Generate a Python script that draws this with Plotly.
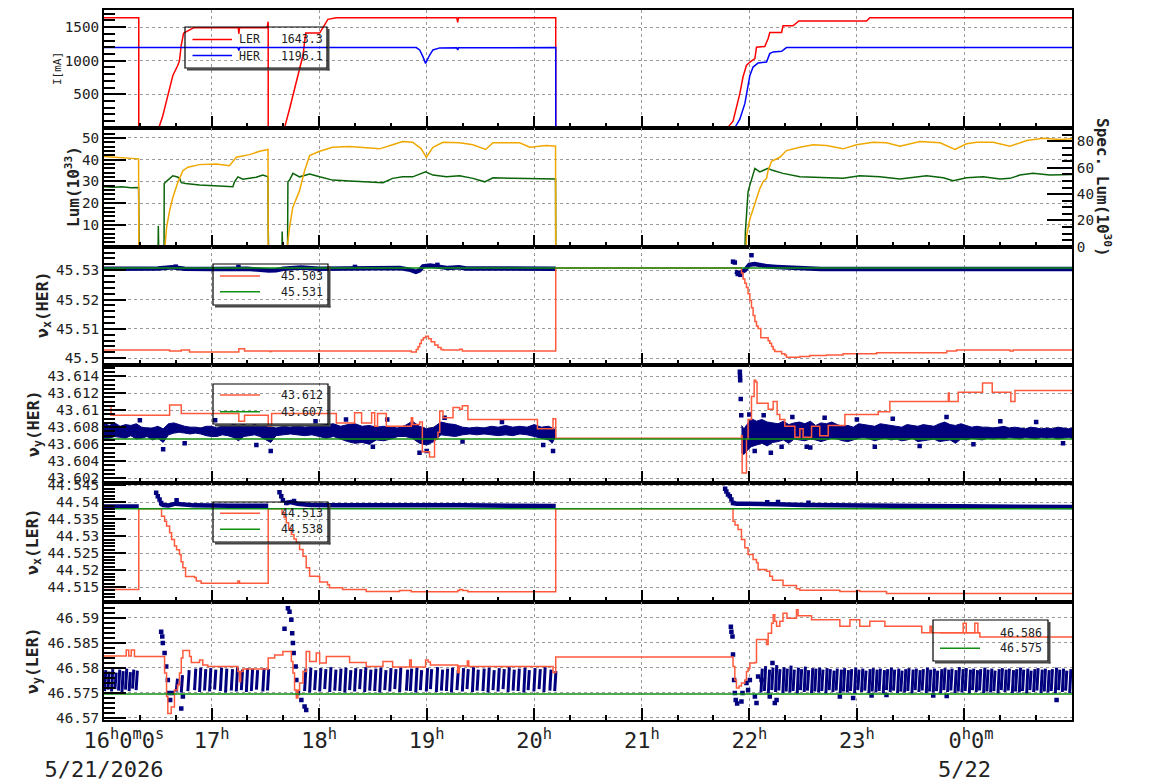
import plotly.graph_objects as go
from plotly.subplots import make_subplots

# ---------------------------------------------------------------- data
# time = minutes after 2026-05-21 16:00
HOUR_TICKS = [0, 60, 120, 180, 240, 300, 360, 420, 480]
HOUR_LABELS = [
    "&nbsp;&nbsp;&nbsp;16<sup>h</sup>0<sup>m</sup>0<sup>s</sup><br>5/21/2026",
    "17<sup>h</sup>", "18<sup>h</sup>", "19<sup>h</sup>", "20<sup>h</sup>",
    "21<sup>h</sup>", "22<sup>h</sup>", "23<sup>h</sup>",
    "&nbsp;0<sup>h</sup>0<sup>m</sup><br>5/22",
]

# panel 1 : beam currents [mA]
LER_CURRENT = [(0, 1640), (19.4, 1640), (19.4, 0), (30.6, 0), (32.6, 160), (34.9, 410), (36.6, 620),
               (38.4, 780), (41.0, 920), (42.1, 1000), (43.1, 1230), (44.4, 1410), (50.0, 1490),
               (74.9, 1490), (75.2, 1400), (75.6, 1490), (91.0, 1490), (91.2, 1580), (91.6, 1580),
               (91.6, 0), (100.7, 0), (103.5, 280), (106.3, 580), (109.1, 905), (111.0, 1080),
               (112.5, 1410), (120.3, 1410), (124.9, 1615), (129.6, 1640), (196.8, 1640),
               (197.3, 1570), (197.8, 1640), (252.0, 1640), (252.0, 0), (347.8, 0), (350.9, 100),
               (352.4, 260), (354.7, 510), (356.5, 760), (358.4, 930), (360.3, 980), (363.1, 1030),
               (364.0, 1200), (368.6, 1210), (370.5, 1330), (371.4, 1420), (378.0, 1420),
               (378.8, 1520), (384.4, 1520), (387.6, 1590), (425.4, 1590), (427.2, 1640), (540.0, 1640)]
HER_CURRENT = [(0, 1195), (74.7, 1195), (75.2, 1150), (75.7, 1195), (174.2, 1195), (176.1, 1160),
               (177.9, 1060), (179.4, 960), (181.6, 1080), (183.5, 1160), (187.3, 1190), (196.8, 1192),
               (197.3, 1160), (197.8, 1192), (252.0, 1195), (252.0, 0), (351.9, 0), (354.7, 130),
               (357.5, 360), (359.3, 610), (360.3, 780), (362.1, 905), (364.9, 965), (369.6, 980),
               (371.4, 1105), (373.3, 1130), (378.0, 1140), (380.7, 1195), (540.0, 1195)]
CURRENT_NAMES = ["LER&nbsp;&nbsp;&nbsp;1643.3", "HER&nbsp;&nbsp;&nbsp;1196.1"]
CURRENT_TICKS = [500, 1000, 1500]

# panel 2 : luminosity (10^33) and specific luminosity (10^30)
LUM = [(0, 27.6), (5, 27.3), (10, 27.5), (15, 27.1), (19.3, 27.2), (19.4, 9.5), (19.6, 0), (30.2, 0),
       (30.3, 9.5), (30.5, 0), (33.5, 0), (33.6, 29.0), (35.6, 30.6), (38.4, 32.6), (41.0, 32.0),
       (42.1, 31.4), (43.1, 29.4), (45.5, 29.0), (53.3, 28.3), (62.6, 27.9), (71.9, 27.6), (72.8, 29.8),
       (74.7, 32.1), (77.5, 31.0), (84.9, 31.9), (88.6, 32.9), (91.5, 32.1), (91.6, 8.6), (91.8, 0),
       (99.3, 0), (99.4, 7.0), (99.6, 0), (102.4, 0), (102.6, 29.8), (103.5, 30.6), (105.4, 33.7),
       (109.1, 32.1), (114.7, 33.4), (120.3, 32.1), (127.5, 30.6), (137.0, 30.2), (146.3, 29.8),
       (155.6, 29.4), (161.0, 31.4), (166.6, 32.1), (172.2, 32.1), (179.4, 34.4), (183.5, 32.9),
       (191.0, 32.1), (198.4, 32.6), (205.8, 31.4), (212.4, 29.8), (217.0, 31.7), (228.0, 31.4),
       (237.5, 31.4), (251.9, 31.1), (252.0, 0), (357.6, 0), (357.8, 7.0), (359.3, 25.3), (360.3, 28.3),
       (361.2, 30.5), (363.1, 36.0), (365.8, 34.4), (368.6, 35.5), (370.5, 36.0), (372.4, 35.2),
       (378.8, 33.7), (388.2, 32.1), (397.5, 31.7), (412.3, 31.4), (421.6, 32.6), (432.8, 32.1),
       (444.0, 31.1), (458.9, 32.6), (468.2, 31.7), (473.7, 30.3), (481.2, 31.7), (490.5, 32.1),
       (499.8, 31.1), (505.4, 31.4), (510.9, 32.9), (518.2, 33.7), (527.6, 32.9), (540.0, 33.2)]
SPEC_LUM = [(0, 68.5), (6, 67.8), (12, 67.6), (19.3, 66.8), (19.4, 0), (34.0, 0), (34.9, 14.5),
            (36.6, 27.3), (38.4, 37.4), (41.2, 48.9), (44.0, 57.8), (46.8, 60.4), (53.3, 62.4),
            (62.6, 62.9), (70.0, 61.6), (73.8, 68.0), (81.2, 70.0), (86.8, 72.6), (91.5, 73.9),
            (91.6, 0), (102.2, 0), (103.5, 14.5), (105.3, 29.8), (109.1, 42.6), (111.9, 57.8),
            (114.7, 69.3), (120.3, 72.6), (127.5, 75.6), (137.0, 76.2), (146.3, 75.2), (153.8, 74.4),
            (161.0, 77.5), (166.6, 80.0), (172.2, 79.4), (177.0, 74.4), (179.8, 68.0), (183.5, 75.6),
            (189.1, 79.4), (198.4, 79.0), (205.8, 77.5), (212.9, 73.9), (217.0, 79.0), (231.9, 79.0),
            (237.5, 75.6), (246.8, 76.9), (251.9, 76.4), (252.0, 0), (358.3, 0), (358.4, 8.0),
            (360.3, 21.0), (363.1, 33.6), (365.8, 44.0), (367.7, 49.5), (369.6, 52.0), (370.5, 58.0),
            (372.4, 65.0), (377.0, 68.0), (380.7, 73.1), (388.2, 75.6), (395.6, 77.5), (403.1, 76.9),
            (412.3, 74.4), (419.8, 77.5), (429.1, 79.4), (436.5, 79.0), (444.0, 76.4), (455.2, 80.0),
            (466.4, 79.0), (474.7, 73.9), (481.2, 78.2), (486.8, 79.4), (496.0, 79.4), (505.4, 76.4),
            (514.7, 80.7), (523.9, 82.5), (533.3, 81.5), (540.0, 82.0)]
LUM_TICKS = [10, 20, 30, 40, 50]
SPEC_TICKS = [0, 20, 40, 60, 80]

# panel 3 : nu_x (HER)
HERX_SET = [(0, 45.5028), (36.6, 45.5025), (43.1, 45.5028), (47.7, 45.5021), (75.2, 45.5032),
            (78.4, 45.5025), (92.4, 45.5023), (93.5, 45.5025), (171.4, 45.5021), (174.2, 45.5030),
            (175.2, 45.5039), (176.1, 45.5050), (177.0, 45.5062), (178.2, 45.5070), (179.4, 45.5075),
            (181.0, 45.5066), (182.5, 45.5056), (184.5, 45.5045), (186.3, 45.5037), (188.0, 45.5030),
            (189.1, 45.5028), (198.4, 45.5031), (199.9, 45.5025), (252.0, 45.5307), (355.6, 45.5290),
            (356.5, 45.5270), (357.5, 45.5255), (358.4, 45.5241), (359.3, 45.5220), (360.3, 45.5197),
            (361.2, 45.5172), (362.1, 45.5146), (363.1, 45.5125), (364.0, 45.5110), (364.9, 45.5101),
            (366.4, 45.5070), (370.5, 45.5060), (371.4, 45.5051), (372.4, 45.5040), (373.3, 45.5030),
            (374.2, 45.5023), (378.0, 45.5015), (379.8, 45.5011), (380.7, 45.5003), (388.2, 45.5006),
            (393.7, 45.5009), (403.1, 45.5011), (412.3, 45.5015), (431.0, 45.5019), (470.1, 45.5025),
            (475.6, 45.5028), (505.4, 45.5025), (507.2, 45.5028), (540.0, 45.5028)]
HERX_REF = 45.5307
HERX_MEAS = [
    [(0, 45.5305), (20, 45.5305), (30, 45.5306), (38, 45.5310), (45, 45.5305), (60, 45.5304),
     (70, 45.5306), (80, 45.5305), (92, 45.5299), (96, 45.5300), (100, 45.5305), (110, 45.5309),
     (120, 45.5305), (150, 45.5305), (165, 45.5307), (171, 45.5301), (174, 45.5294), (176, 45.5299),
     (178, 45.5313), (182, 45.5316), (186, 45.5312), (192, 45.5307), (198, 45.5310), (202, 45.5306),
     (252, 45.5305)],
    [(352.0, 45.5295), (354.7, 45.5290), (357.5, 45.5300), (358.6, 45.5310), (360, 45.5318),
     (363, 45.5321), (366, 45.5317), (370, 45.5313), (375, 45.5311), (380, 45.5309), (388, 45.5306),
     (400, 45.5304), (540, 45.5304)],
]
HERX_OUTLIERS = [(350.9, 45.5329), (351.9, 45.5326), (353.5, 45.5287), (355.0, 45.5284), (361.2, 45.5351),
                 (40.0, 45.5312), (75.0, 45.5311), (140.0, 45.5311), (186.0, 45.5318)]
HERX_NAMES = ["45.503", "45.531"]
HERX_TICKS = [45.50, 45.51, 45.52, 45.53]
HERX_LABELS = ["45.5", "45.51", "45.52", "45.53"]

# panel 4 : nu_y (HER)
HERY_SET = [(0, 43.6105), (3.9, 43.6094), (36.6, 43.6106), (43.1, 43.6096), (75.2, 43.6087),
            (78.4, 43.6094), (91.6, 43.6081), (93.5, 43.6096), (129.6, 43.6085), (139.8, 43.6097),
            (143.7, 43.6085), (149.3, 43.6097), (151.0, 43.6081), (152.6, 43.6096), (157.5, 43.6081),
            (171.4, 43.6091), (172.2, 43.6083), (176.1, 43.6086), (177.6, 43.6051), (181.6, 43.6045),
            (184.4, 43.6066), (186.3, 43.6074), (187.3, 43.6099), (189.1, 43.6091), (194.7, 43.6103),
            (198.4, 43.6101), (199.9, 43.6105), (203.0, 43.6089), (241.8, 43.6078), (250.5, 43.6090),
            (252.0, 43.6067), (355.6, 43.6070), (356.0, 43.6026), (357.5, 43.6026), (358.4, 43.6066),
            (359.3, 43.6089), (361.2, 43.6116), (362.7, 43.6135), (363.6, 43.6133), (364.3, 43.6108),
            (370.5, 43.6101), (373.3, 43.6110), (375.5, 43.6095), (377.0, 43.6089), (379.8, 43.6081),
            (385.4, 43.6068), (388.2, 43.6078), (390.0, 43.6068), (394.7, 43.6081), (399.3, 43.6070),
            (404.0, 43.6082), (413.3, 43.6095), (431.9, 43.6098), (438.4, 43.6110), (471.0, 43.6120),
            (471.5, 43.6110), (476.5, 43.6121), (490.1, 43.6132), (495.5, 43.6121), (505.9, 43.6110),
            (508.2, 43.6123), (540.0, 43.6123)]
HERY_REF = 43.6066
HERY_BAND = [
    [(0, 43.6066, 43.6084), (3, 43.6067, 43.6082), (6, 43.6069, 43.6085), (9, 43.6068, 43.6081),
     (12, 43.6067, 43.6083), (15, 43.6070, 43.6082), (18, 43.6066, 43.6084), (21, 43.6067, 43.6080),
     (24, 43.6069, 43.6079), (27, 43.6065, 43.6079), (30, 43.6067, 43.6081), (33, 43.6062, 43.6078),
     (36, 43.6071, 43.6084), (39, 43.6073, 43.6085), (42, 43.6074, 43.6083), (45, 43.6073, 43.6081),
     (48, 43.6072, 43.6080), (51, 43.6073, 43.6080), (54, 43.6072, 43.6079), (57, 43.6070, 43.6081),
     (60, 43.6069, 43.6081), (63, 43.6069, 43.6079), (66, 43.6071, 43.6082), (69, 43.6070, 43.6081),
     (72, 43.6068, 43.6083), (75, 43.6064, 43.6082), (78, 43.6069, 43.6083), (81, 43.6070, 43.6081),
     (84, 43.6071, 43.6083), (87, 43.6069, 43.6081), (90, 43.6066, 43.6082), (93, 43.6062, 43.6080),
     (96, 43.6070, 43.6079), (100, 43.6071, 43.6081), (104, 43.6072, 43.6080), (108, 43.6071, 43.6082),
     (112, 43.6070, 43.6080), (116, 43.6071, 43.6081), (120, 43.6069, 43.6082), (124, 43.6067, 43.6083),
     (128, 43.6069, 43.6084), (132, 43.6066, 43.6081), (136, 43.6063, 43.6083), (140, 43.6061, 43.6084),
     (144, 43.6062, 43.6081), (148, 43.6060, 43.6082), (152, 43.6065, 43.6080), (156, 43.6064, 43.6081),
     (160, 43.6066, 43.6080), (164, 43.6069, 43.6079), (168, 43.6069, 43.6082), (172, 43.6067, 43.6087),
     (176, 43.6061, 43.6081), (180, 43.6059, 43.6078), (184, 43.6063, 43.6080), (188, 43.6071, 43.6086),
     (192, 43.6070, 43.6084), (196, 43.6069, 43.6083), (200, 43.6071, 43.6080), (204, 43.6072, 43.6079),
     (208, 43.6071, 43.6080), (212, 43.6072, 43.6079), (216, 43.6071, 43.6081), (220, 43.6070, 43.6080),
     (224, 43.6071, 43.6082), (228, 43.6070, 43.6080), (232, 43.6072, 43.6081), (236, 43.6071, 43.6080),
     (240, 43.6069, 43.6083), (244, 43.6067, 43.6080), (248, 43.6065, 43.6081), (250, 43.6061, 43.6079),
     (252, 43.6069, 43.6077)],
    [(355.6, 43.6050, 43.6082), (357, 43.6048, 43.6078), (359, 43.6053, 43.6084), (361, 43.6057, 43.6090),
     (364, 43.6059, 43.6087), (367, 43.6061, 43.6089), (370, 43.6058, 43.6086), (373, 43.6062, 43.6085),
     (376, 43.6063, 43.6084), (379, 43.6065, 43.6087), (382, 43.6061, 43.6083), (385, 43.6066, 43.6085),
     (388, 43.6065, 43.6086), (391, 43.6064, 43.6084), (394, 43.6066, 43.6087), (397, 43.6065, 43.6082),
     (400, 43.6063, 43.6085), (403, 43.6065, 43.6084), (406, 43.6067, 43.6086), (409, 43.6066, 43.6083),
     (412, 43.6064, 43.6081), (415, 43.6063, 43.6082), (418, 43.6065, 43.6080), (421, 43.6067, 43.6084),
     (424, 43.6068, 43.6083), (427, 43.6066, 43.6082), (430, 43.6064, 43.6081), (433, 43.6066, 43.6084),
     (436, 43.6067, 43.6083), (439, 43.6065, 43.6082), (442, 43.6066, 43.6081), (445, 43.6064, 43.6080),
     (448, 43.6065, 43.6083), (451, 43.6067, 43.6082), (454, 43.6063, 43.6081), (457, 43.6064, 43.6083),
     (460, 43.6065, 43.6082), (463, 43.6066, 43.6081), (466, 43.6063, 43.6084), (469, 43.6064, 43.6086),
     (472, 43.6065, 43.6083), (475, 43.6061, 43.6082), (478, 43.6066, 43.6084), (481, 43.6065, 43.6082),
     (484, 43.6067, 43.6080), (487, 43.6066, 43.6081), (490, 43.6065, 43.6080), (493, 43.6067, 43.6080),
     (496, 43.6066, 43.6079), (499, 43.6067, 43.6080), (502, 43.6066, 43.6081), (505, 43.6068, 43.6079),
     (508, 43.6067, 43.6080), (511, 43.6066, 43.6079), (514, 43.6068, 43.6078), (517, 43.6067, 43.6080),
     (520, 43.6066, 43.6079), (523, 43.6068, 43.6078), (526, 43.6067, 43.6079), (529, 43.6068, 43.6078),
     (532, 43.6066, 43.6080), (535, 43.6067, 43.6079), (538, 43.6068, 43.6078), (540, 43.6067, 43.6079)],
]
HERY_OUTLIERS = [(354.7, 43.6145), (354.8, 43.6140), (354.9, 43.6135), (355.2, 43.6113), (355.5, 43.6094),
                 (33.0, 43.6054), (93.0, 43.6052), (176.0, 43.6050), (180.0, 43.6052), (250.5, 43.6052),
                 (363.0, 43.6052), (372.0, 43.6050), (394.0, 43.6056), (430.0, 43.6057),
                 (20, 43.6088), (45, 43.6061), (62, 43.6088), (85, 43.6059), (118, 43.6087),
                 (135, 43.6089), (150, 43.6057), (158, 43.6089), (190, 43.6091), (200, 43.6063),
                 (222, 43.6086), (245, 43.6059), (360, 43.6095), (368, 43.6094), (378, 43.6057),
                 (384, 43.6092), (392, 43.6057), (402, 43.6091), (420, 43.6089), (440, 43.6090),
                 (455, 43.6058), (470, 43.6092), (485, 43.6060), (500, 43.6087), (520, 43.6086),
                 (535, 43.6061)]
HERY_NAMES = ["43.612", "43.607"]
HERY_TICKS = [43.602, 43.604, 43.606, 43.608, 43.610, 43.612, 43.614]
HERY_LABELS = ["43.602", "43.604", "43.606", "43.608", "43.61", "43.612", "43.614"]

# panel 5 : nu_x (LER)
LERX_SET = [(0, 44.5143), (19.4, 44.5381), (32.1, 44.5359), (33.8, 44.5344), (34.9, 44.5330),
            (36.6, 44.5310), (37.7, 44.5290), (39.3, 44.5271), (40.5, 44.5260), (42.1, 44.5246),
            (43.0, 44.5225), (44.0, 44.5207), (45.5, 44.5181), (50.5, 44.5178), (51.5, 44.5168),
            (54.2, 44.5161), (74.7, 44.5168), (75.6, 44.5161), (91.6, 44.5381), (99.3, 44.5369),
            (100.5, 44.5355), (101.7, 44.5340), (103.0, 44.5322), (104.5, 44.5305), (106.0, 44.5292),
            (107.3, 44.5281), (109.1, 44.5261), (111.0, 44.5241), (112.8, 44.5207), (114.7, 44.5182),
            (119.2, 44.5181), (120.3, 44.5165), (124.7, 44.5157), (125.8, 44.5148), (133.1, 44.5143),
            (146.3, 44.5137), (164.9, 44.5140), (171.4, 44.5136), (197.3, 44.5140), (198.4, 44.5143),
            (200.1, 44.5140), (203.0, 44.5136), (252.0, 44.5381), (350.9, 44.5344), (352.0, 44.5333),
            (353.7, 44.5320), (355.6, 44.5290), (357.5, 44.5266), (359.3, 44.5246), (362.1, 44.5231),
            (364.0, 44.5222), (364.9, 44.5202), (369.6, 44.5197), (371.4, 44.5182), (372.9, 44.5170),
            (378.8, 44.5155), (386.3, 44.5145), (388.2, 44.5141), (410.5, 44.5137), (419.8, 44.5140),
            (421.6, 44.5137), (436.5, 44.5131), (540.0, 44.5131)]
LERX_REF = 44.5381
LERX_MEAS = [
    [(0, 44.5388), (19.4, 44.5388)],
    [(31.5, 44.5396), (33, 44.5392), (36, 44.5391), (40, 44.5396), (43, 44.5394), (50, 44.5391),
     (70, 44.5390), (91.6, 44.5390)],
    [(101.7, 44.5398), (104, 44.5401), (108, 44.5396), (115, 44.5392), (130, 44.5391), (150, 44.5390),
     (180, 44.5391), (200, 44.5391), (230, 44.5390), (252, 44.5389)],
    [(350.9, 44.5398), (353, 44.5396), (358, 44.5396), (365, 44.5394), (375, 44.5394), (390, 44.5392),
     (420, 44.5391), (460, 44.5390), (500, 44.5389), (515, 44.5387), (530, 44.5386), (540, 44.5386)],
]
LERX_OUTLIERS = [(29.1, 44.5428), (30.0, 44.5418), (31.0, 44.5408), (31.9, 44.5398), (40.5, 44.5406),
                 (97.9, 44.5430), (98.9, 44.5418), (99.8, 44.5406), (101.7, 44.5398), (106.0, 44.5404),
                 (346.5, 44.5440), (347.2, 44.5432), (348.1, 44.5423), (349.1, 44.5418), (350.0, 44.5408),
                 (350.9, 44.5398), (370.0, 44.5400), (376.0, 44.5401), (393.0, 44.5399)]
LERX_NAMES = ["44.513", "44.538"]
LERX_TICKS = [44.515, 44.520, 44.525, 44.530, 44.535, 44.540, 44.545]
LERX_LABELS = ["44.515", "44.52", "44.525", "44.53", "44.535", "44.54", "44.545"]

# panel 6 : nu_y (LER)
LERY_SET = [(0, 46.5823), (12.4, 46.5835), (13.8, 46.5823), (15.2, 46.5835), (17.0, 46.5822),
            (33.8, 46.5789), (34.9, 46.5742), (35.6, 46.5708), (37.5, 46.5721), (39.3, 46.5755),
            (41.0, 46.5765), (42.1, 46.5789), (43.1, 46.5819), (44.0, 46.5834), (47.7, 46.5822),
            (48.7, 46.5810), (53.3, 46.5815), (55.1, 46.5805), (57.9, 46.5802), (74.7, 46.5792),
            (75.6, 46.5772), (76.2, 46.5792), (77.5, 46.5797), (91.6, 46.5819), (95.2, 46.5825),
            (99.8, 46.5832), (104.5, 46.5812), (105.4, 46.5789), (106.3, 46.5755), (107.3, 46.5739),
            (108.2, 46.5755), (109.1, 46.5769), (111.0, 46.5792), (112.8, 46.5832), (114.7, 46.5812),
            (118.4, 46.5829), (120.3, 46.5809), (124.0, 46.5822), (137.0, 46.5810), (146.3, 46.5802),
            (155.6, 46.5812), (161.0, 46.5801), (170.5, 46.5815), (171.4, 46.5801), (179.4, 46.5815),
            (180.8, 46.5811), (182.1, 46.5805), (197.3, 46.5790), (198.1, 46.5803), (202.7, 46.5813),
            (203.5, 46.5802), (250.5, 46.5790), (252.0, 46.5821), (350.9, 46.5802), (351.9, 46.5775),
            (352.8, 46.5759), (354.3, 46.5763), (355.6, 46.5769), (357.5, 46.5775), (358.4, 46.5792),
            (359.3, 46.5798), (360.3, 46.5809), (363.1, 46.5810), (364.0, 46.5856), (368.6, 46.5856),
            (369.6, 46.5846), (370.5, 46.5869), (372.4, 46.5889), (373.3, 46.5906), (374.2, 46.5893),
            (375.2, 46.5883), (377.0, 46.5893), (378.8, 46.5909), (381.0, 46.5899), (386.3, 46.5916),
            (387.2, 46.5904), (394.7, 46.5896), (410.5, 46.5883), (416.1, 46.5896), (421.6, 46.5883),
            (427.2, 46.5893), (435.6, 46.5883), (456.2, 46.5870), (460.8, 46.5883), (461.7, 46.5870),
            (479.3, 46.5889), (481.0, 46.5870), (485.8, 46.5889), (487.5, 46.5870), (488.6, 46.5861),
            (540.0, 46.5861)]
LERY_REF = 46.5747
# measured tune scans: (minute, low, high)
LERY_SCANS = [
    (0.3, 46.5753, 46.5795), (2.2, 46.5756, 46.5792), (4.2, 46.5752, 46.5797), (6.1, 46.5757, 46.5790),
    (8.1, 46.5754, 46.5796), (10.0, 46.5751, 46.5793), (12.0, 46.5756, 46.5798), (14.0, 46.5753, 46.5791),
    (15.9, 46.5758, 46.5796), (17.9, 46.5755, 46.5794),
    (40.3, 46.5752, 46.5778), (43.1, 46.5750, 46.5785), (46.8, 46.5753, 46.5795), (50.5, 46.5755, 46.5798),
    (53.3, 46.5751, 46.5800), (56.1, 46.5754, 46.5797), (58.9, 46.5752, 46.5799), (61.7, 46.5756, 46.5796),
    (64.9, 46.5753, 46.5800), (67.8, 46.5750, 46.5798), (71.0, 46.5754, 46.5797), (73.8, 46.5752, 46.5800),
    (76.6, 46.5755, 46.5796), (79.4, 46.5751, 46.5799), (82.2, 46.5753, 46.5798), (85.0, 46.5756, 46.5795),
    (88.6, 46.5752, 46.5799), (91.2, 46.5754, 46.5797),
    (111.9, 46.5753, 46.5798), (114.7, 46.5750, 46.5800), (117.5, 46.5755, 46.5795), (120.3, 46.5752, 46.5799),
    (123.1, 46.5757, 46.5797), (125.9, 46.5751, 46.5801), (128.7, 46.5754, 46.5796), (131.5, 46.5753, 46.5798),
    (134.3, 46.5750, 46.5800), (137.0, 46.5755, 46.5795), (139.8, 46.5752, 46.5799), (142.6, 46.5757, 46.5797),
    (145.4, 46.5751, 46.5801), (148.2, 46.5754, 46.5796), (151.0, 46.5753, 46.5798), (153.8, 46.5750, 46.5800),
    (156.6, 46.5755, 46.5795), (159.4, 46.5752, 46.5799), (162.2, 46.5757, 46.5797), (164.9, 46.5751, 46.5801),
    (168.7, 46.5754, 46.5796), (170.9, 46.5753, 46.5798), (173.9, 46.5750, 46.5800), (176.5, 46.5755, 46.5795),
    (179.8, 46.5752, 46.5799), (182.1, 46.5757, 46.5797), (185.4, 46.5751, 46.5801), (188.2, 46.5754, 46.5796),
    (191.0, 46.5753, 46.5798), (193.8, 46.5750, 46.5800), (196.9, 46.5755, 46.5795), (199.9, 46.5752, 46.5799),
    (202.5, 46.5757, 46.5797), (205.5, 46.5751, 46.5801), (208.1, 46.5754, 46.5796), (211.4, 46.5753, 46.5798),
    (214.2, 46.5750, 46.5800), (217.0, 46.5755, 46.5795), (219.8, 46.5752, 46.5799), (222.6, 46.5757, 46.5797),
    (225.4, 46.5751, 46.5801), (228.2, 46.5754, 46.5796), (231.0, 46.5753, 46.5798), (234.2, 46.5750, 46.5800),
    (236.6, 46.5755, 46.5795), (239.8, 46.5752, 46.5799), (242.7, 46.5757, 46.5797), (245.4, 46.5751, 46.5801),
    (248.7, 46.5754, 46.5796), (251.4, 46.5753, 46.5793),
    (366.5, 46.5750, 46.5798), (368.4, 46.5753, 46.5803), (370.6, 46.5748, 46.5796), (372.5, 46.5755, 46.5800),
    (374.6, 46.5751, 46.5805), (376.4, 46.5754, 46.5797), (378.7, 46.5749, 46.5801), (380.5, 46.5752, 46.5798),
    (382.6, 46.5750, 46.5804), (384.4, 46.5753, 46.5796), (386.7, 46.5748, 46.5800), (388.5, 46.5755, 46.5797),
    (390.6, 46.5751, 46.5802), (392.4, 46.5754, 46.5795), (394.7, 46.5749, 46.5799), (396.5, 46.5752, 46.5798),
    (398.6, 46.5750, 46.5800), (400.4, 46.5753, 46.5796), (402.7, 46.5748, 46.5799), (404.5, 46.5755, 46.5797),
    (406.6, 46.5751, 46.5794), (408.4, 46.5754, 46.5798), (410.7, 46.5749, 46.5796), (412.5, 46.5752, 46.5799),
    (414.6, 46.5750, 46.5795), (416.4, 46.5753, 46.5797), (418.7, 46.5748, 46.5800), (420.5, 46.5755, 46.5796),
    (422.6, 46.5751, 46.5798), (424.4, 46.5754, 46.5794), (426.7, 46.5749, 46.5797), (428.5, 46.5752, 46.5799),
    (430.6, 46.5750, 46.5796), (432.4, 46.5753, 46.5798), (434.7, 46.5748, 46.5795), (436.5, 46.5755, 46.5797),
    (438.6, 46.5751, 46.5800), (440.4, 46.5754, 46.5796), (442.7, 46.5749, 46.5798), (444.5, 46.5752, 46.5794),
    (446.6, 46.5750, 46.5797), (448.4, 46.5753, 46.5799), (450.7, 46.5748, 46.5796), (452.5, 46.5755, 46.5798),
    (454.6, 46.5751, 46.5795), (456.4, 46.5754, 46.5797), (458.7, 46.5749, 46.5800), (460.5, 46.5752, 46.5796),
    (462.6, 46.5750, 46.5798), (464.4, 46.5753, 46.5794), (466.7, 46.5748, 46.5797), (468.5, 46.5755, 46.5799),
    (470.6, 46.5751, 46.5796), (472.4, 46.5754, 46.5798), (474.7, 46.5749, 46.5795), (476.5, 46.5752, 46.5801),
    (478.6, 46.5750, 46.5797), (480.4, 46.5753, 46.5799), (482.7, 46.5748, 46.5796), (484.5, 46.5755, 46.5798),
    (486.6, 46.5751, 46.5795), (488.4, 46.5754, 46.5797), (490.7, 46.5749, 46.5800), (492.5, 46.5752, 46.5796),
    (494.6, 46.5750, 46.5798), (496.4, 46.5753, 46.5794), (498.7, 46.5748, 46.5797), (500.5, 46.5755, 46.5799),
    (502.6, 46.5751, 46.5796), (504.4, 46.5754, 46.5798), (506.7, 46.5749, 46.5795), (508.5, 46.5752, 46.5797),
    (510.6, 46.5750, 46.5800), (512.4, 46.5753, 46.5796), (514.7, 46.5748, 46.5798), (516.5, 46.5755, 46.5794),
    (518.6, 46.5751, 46.5797), (520.4, 46.5754, 46.5799), (522.7, 46.5749, 46.5796), (524.5, 46.5752, 46.5798),
    (526.6, 46.5750, 46.5795), (528.4, 46.5753, 46.5797), (530.7, 46.5748, 46.5800), (532.5, 46.5755, 46.5796),
    (534.6, 46.5751, 46.5798), (536.4, 46.5754, 46.5794), (538.7, 46.5749, 46.5797),
]
LERY_OUTLIERS = [(31.9, 46.5872), (32.5, 46.5862), (32.8, 46.5849), (33.8, 46.5829), (34.7, 46.5802),
                 (35.6, 46.5775), (36.2, 46.5749), (36.9, 46.5735), (38.4, 46.5749), (43.1, 46.5718),
                 (44.0, 46.5742), (100.7, 46.5878), (102.6, 46.5919), (103.5, 46.5912), (104.5, 46.5896),
                 (105.0, 46.5869), (105.4, 46.5849), (105.8, 46.5829), (106.9, 46.5802), (107.3, 46.5775),
                 (108.2, 46.5749), (110.1, 46.5735), (111.9, 46.5722), (112.8, 46.5715), (349.7, 46.5882),
                 (350.0, 46.5872), (350.6, 46.5862), (350.9, 46.5826), (351.5, 46.5775), (351.9, 46.5749),
                 (352.4, 46.5735), (353.2, 46.5728), (355.6, 46.5732), (356.2, 46.5749), (358.4, 46.5769),
                 (359.3, 46.5755), (360.3, 46.5775), (363.1, 46.5742), (364.0, 46.5729), (364.9, 46.5782),
                 (366.8, 46.5775), (371.4, 46.5742), (372.9, 46.5809), (374.2, 46.5729), (375.2, 46.5735),
                 (410.5, 46.5742), (417.9, 46.5739), (428.2, 46.5744), (436.5, 46.5745), (462.6, 46.5744),
                 (470.1, 46.5743), (531.4, 46.5735)]
LERY_NAMES = ["46.586", "46.575"]
LERY_TICKS = [46.570, 46.575, 46.580, 46.585, 46.590]
LERY_LABELS = ["46.57", "46.575", "46.58", "46.585", "46.59"]

# ---------------------------------------------------------------- helpers
def xy(pairs):
    return [p[0] for p in pairs], [p[1] for p in pairs]


def joined(segments):
    xs, ys = [], []
    for seg in segments:
        if xs:
            xs.append(None)
            ys.append(None)
        xs += [p[0] for p in seg]
        ys += [p[1] for p in seg]
    return xs, ys


def scans(triples, slant=0.7):
    xs, ys = [], []
    for t, lo, hi in triples:
        xs += [t, t + slant, None]
        ys += [lo, hi, None]
    return xs, ys


def band(segments):
    xs, ys = [], []
    for seg in segments:
        if xs:
            xs.append(None)
            ys.append(None)
        xs += [s[0] for s in seg] + [s[0] for s in reversed(seg)]
        ys += [s[2] for s in seg] + [s[1] for s in reversed(seg)]
    return xs, ys


PL, PR, PT, PB = 104, 1072, 10, 720


def fx(p):
    return (p - PL) / (PR - PL)


def fy(p):
    return (PB - p) / (PB - PT)


# ---------------------------------------------------------------- figure
RED_TUNE = "#ff5a3c"
GREEN = "#109010"
NAVY = "#00007f"
MONO = "DejaVu Sans Mono"

fig = make_subplots(rows=6, cols=1, shared_xaxes=True, vertical_spacing=0,
                    specs=[[{}], [{"secondary_y": True}], [{}], [{}], [{}], [{}]])

# panel 1
x, y = xy(LER_CURRENT)
fig.add_trace(go.Scatter(x=x, y=y, mode="lines", line=dict(color="#ff0000", width=1.5),
                         showlegend=False), row=1, col=1)
x, y = xy(HER_CURRENT)
fig.add_trace(go.Scatter(x=x, y=y, mode="lines", line=dict(color="#0000ff", width=1.5),
                         showlegend=False), row=1, col=1)

# panel 2
x, y = xy(LUM)
fig.add_trace(go.Scatter(x=x, y=y, mode="lines", line=dict(color="#0a640a", width=1.5),
                         showlegend=False), row=2, col=1, secondary_y=False)
x, y = xy(SPEC_LUM)
fig.add_trace(go.Scatter(x=x, y=y, mode="lines", line=dict(color="#f0a800", width=1.5),
                         showlegend=False), row=2, col=1, secondary_y=True)


def tune_panel(row, meas_x, meas_y, meas_kind, outliers, setp, ref):
    if meas_kind == "line":
        fig.add_trace(go.Scatter(x=meas_x, y=meas_y, mode="lines", line=dict(color=NAVY, width=4.5),
                                 showlegend=False), row=row, col=1)
    elif meas_kind == "band":
        fig.add_trace(go.Scatter(x=meas_x, y=meas_y, mode="lines", fill="toself", fillcolor=NAVY,
                                 line=dict(color=NAVY, width=1), showlegend=False), row=row, col=1)
    else:
        fig.add_trace(go.Scatter(x=meas_x, y=meas_y, mode="lines", line=dict(color=NAVY, width=3),
                                 showlegend=False), row=row, col=1)
    ox, oy = xy(outliers)
    fig.add_trace(go.Scatter(x=ox, y=oy, mode="markers",
                             marker=dict(color=NAVY, size=4.5, symbol="square"),
                             showlegend=False), row=row, col=1)
    sx, sy = xy(setp)
    fig.add_trace(go.Scatter(x=sx, y=sy, mode="lines", line=dict(color=RED_TUNE, width=1.5, shape="hv"),
                             showlegend=False), row=row, col=1)
    fig.add_trace(go.Scatter(x=[0, 540], y=[ref, ref], mode="lines", line=dict(color=GREEN, width=1.5),
                             showlegend=False), row=row, col=1)


mx, my = joined(HERX_MEAS)
tune_panel(3, mx, my, "line", HERX_OUTLIERS, HERX_SET, HERX_REF)
mx, my = band(HERY_BAND)
tune_panel(4, mx, my, "band", HERY_OUTLIERS, HERY_SET, HERY_REF)
mx, my = joined(LERX_MEAS)
tune_panel(5, mx, my, "line", LERX_OUTLIERS, LERX_SET, LERX_REF)
mx, my = scans(LERY_SCANS)
tune_panel(6, mx, my, "scan", LERY_OUTLIERS, LERY_SET, LERY_REF)

# ---------------------------------------------------------------- axes
grid = dict(showgrid=True, gridcolor="#9a9a9a", griddash="dot", gridwidth=1)
line = dict(showline=True, linecolor="black", linewidth=2, mirror=True, zeroline=False)
tickfont = dict(family=MONO, size=14.3, color="#222")

for r in range(1, 7):
    fig.update_xaxes(row=r, col=1, domain=[0, 1], range=[0, 540], tickmode="array", tickvals=HOUR_TICKS,
                     ticktext=HOUR_LABELS, ticks="inside", ticklen=12, tickwidth=2, tickcolor="black",
                     minor=dict(tickmode="linear", tick0=0, dtick=20, ticks="inside", ticklen=5,
                                tickwidth=2, tickcolor="black", showgrid=False),
                     showticklabels=(r == 6), tickfont=dict(family=MONO, size=22, color="#222"),
                     automargin=False, **grid, **line)


def yax(row, rng, vals, texts, minor_dtick, minor_tick0, secondary=False, major_len=22, minor_len=11,
        **extra):
    fig.update_yaxes(row=row, col=1, secondary_y=secondary, range=rng, tickmode="array",
                     tickvals=vals, ticktext=texts, ticks="inside", ticklen=major_len, tickwidth=2,
                     tickcolor="black", tickfont=tickfont, automargin=False,
                     minor=dict(tickmode="linear", tick0=minor_tick0, dtick=minor_dtick, ticks="inside",
                                ticklen=minor_len, tickwidth=2, tickcolor="black", showgrid=False),
                     **extra)


yax(1, [-7, 1754], CURRENT_TICKS, [str(v) for v in CURRENT_TICKS], 100, 0, **grid, **line)
yax(2, [0, 54.4], LUM_TICKS, [str(v) for v in LUM_TICKS], 2, 0, **grid, **line)
yax(2, [0, 90], SPEC_TICKS, [str(v) for v in SPEC_TICKS], 5, 0, secondary=True, major_len=25,
    minor_len=10, showgrid=False, showline=True, linecolor="black", linewidth=2, zeroline=False)
yax(3, [45.4977, 45.538], HERX_TICKS, HERX_LABELS, 0.002, 45.5, **grid, **line)
yax(4, [43.6014, 43.6153], HERY_TICKS, HERY_LABELS, 0.0005, 43.6, **grid, **line)
yax(5, [44.5107, 44.5456], LERX_TICKS, LERX_LABELS, 0.001, 44.5, **grid, **line)
yax(6, [46.5695, 46.5932], LERY_TICKS, LERY_LABELS, 0.001, 46.5, **grid, **line)

# ---------------------------------------------------------------- legends (drawn boxes) & titles
LEGENDS = [
    # box (px), row y's, line x-range, text x, entries (colour, text)
    ((185, 27, 327, 68), (39.5, 55.5), (192.5, 232), 237,
     [("#ff0000", CURRENT_NAMES[0]), ("#0000ff", CURRENT_NAMES[1])]),
    ((213, 264, 328, 305), (276, 291.7), (220, 260), 279,
     [(RED_TUNE, HERX_NAMES[0]), (GREEN, HERX_NAMES[1])]),
    ((213, 384, 328, 424), (395, 411.7), (220, 260), 279,
     [(RED_TUNE, HERY_NAMES[0]), (GREEN, HERY_NAMES[1])]),
    ((213, 502, 328, 542), (513.3, 529.3), (220, 260), 279,
     [(RED_TUNE, LERX_NAMES[0]), (GREEN, LERX_NAMES[1])]),
    ((933, 620, 1048, 661), (632.7, 648.3), (940, 980), 998,
     [(RED_TUNE, LERY_NAMES[0]), (GREEN, LERY_NAMES[1])]),
]
shapes = []
annotations = []
leg_font = dict(family=MONO, size=11.6, color="#222")
for (x0, y0, x1, y1), rows, (lx0, lx1), tx, entries in LEGENDS:
    shapes.append(dict(type="line", xref="paper", yref="paper", x0=fx(x1 + 1.5), x1=fx(x1 + 1.5),
                       y0=fy(y0 + 2), y1=fy(y1 + 2.5), line=dict(color="#444", width=2)))
    shapes.append(dict(type="line", xref="paper", yref="paper", x0=fx(x0 + 2), x1=fx(x1 + 2.5),
                       y0=fy(y1 + 1.5), y1=fy(y1 + 1.5), line=dict(color="#444", width=2)))
    shapes.append(dict(type="rect", xref="paper", yref="paper", x0=fx(x0), x1=fx(x1), y0=fy(y0), y1=fy(y1),
                       line=dict(color="black", width=1.2)))
    for ry, (col, txt) in zip(rows, entries):
        shapes.append(dict(type="line", xref="paper", yref="paper", x0=fx(lx0), x1=fx(lx1),
                           y0=fy(ry), y1=fy(ry), line=dict(color=col, width=1.5)))
        annotations.append(dict(text=txt, x=fx(tx), y=fy(ry), xref="paper", yref="paper",
                                showarrow=False, xanchor="left", yanchor="middle", font=leg_font))

TITLES = [("I[mA]", 57, 69, 11, False, -90),
          ("Lum(10<sup>33</sup>)", 72, 187, 16, True, -90),
          ("ν<sub>x</sub>(HER)", 43, 305, 16.5, True, -90),
          ("ν<sub>y</sub>(HER)", 34, 424, 16.5, True, -90),
          ("ν<sub>x</sub>(LER)", 33, 542, 16.5, True, -90),
          ("ν<sub>y</sub>(LER)", 33, 661, 16.5, True, -90),
          ("Spec. Lum(10<sup>30</sup>)", 1104, 187, 16, True, 90)]
for text, ax_, ay_, size, bold, ang in TITLES:
    annotations.append(dict(text=f"<b>{text}</b>" if bold else text, x=fx(ax_), y=fy(ay_),
                            xref="paper", yref="paper", showarrow=False, textangle=ang,
                            xanchor="center", yanchor="middle",
                            font=dict(family=MONO, size=size, color="#222")))

fig.update_layout(width=1154, height=782, autosize=False,
                  margin=dict(l=PL, r=1154 - PR, t=PT, b=782 - PB),
                  paper_bgcolor="white", plot_bgcolor="white", showlegend=False,
                  shapes=shapes, annotations=annotations)

fig.write_html("out.html")
